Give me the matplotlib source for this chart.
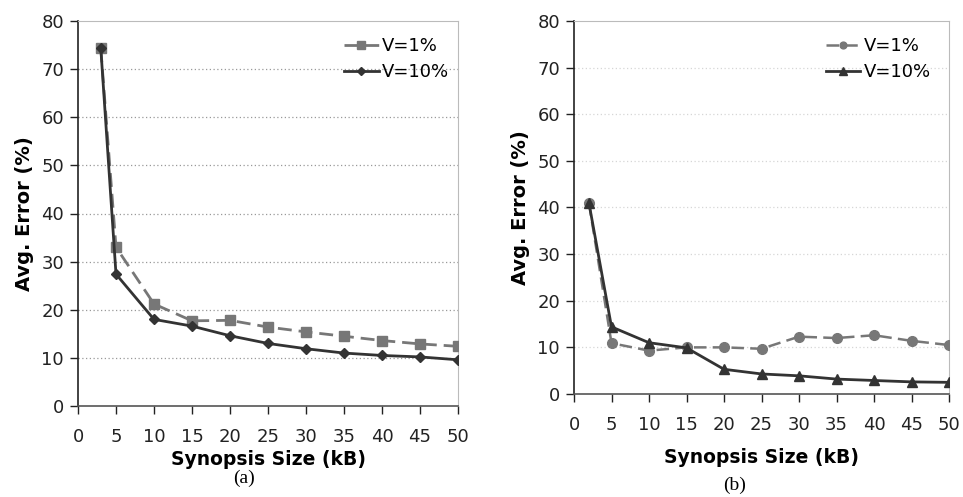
import matplotlib
matplotlib.use("Agg")
import matplotlib.pyplot as plt

# Panel (a)
xa = [3, 5, 10, 15, 20, 25, 30, 35, 40, 45, 50]
a_v1 = [74.3, 33.0, 21.2, 17.7, 17.8, 16.4, 15.4, 14.5, 13.6, 12.9, 12.4]
a_v10 = [74.3, 27.4, 18.0, 16.6, 14.6, 13.0, 11.9, 11.0, 10.5, 10.2, 9.6]

# Panel (b)
xb = [2, 5, 10, 15, 20, 25, 30, 35, 40, 45, 50]
b_v1 = [40.9, 10.9, 9.3, 10.0, 10.0, 9.7, 12.3, 12.0, 12.6, 11.4, 10.5]
b_v10 = [40.9, 14.4, 11.0, 9.9, 5.3, 4.3, 3.9, 3.2, 2.9, 2.6, 2.5]

xticks = [0, 5, 10, 15, 20, 25, 30, 35, 40, 45, 50]
yticks = [0, 10, 20, 30, 40, 50, 60, 70, 80]
labels = ["V=1%", "V=10%"]

C1 = "#777777"
C10 = "#333333"

fig = plt.figure(figsize=(9.63, 4.97), dpi=100)
axa = fig.add_axes([78/963, 1-406/497, 380/963, 385/497])
axb = fig.add_axes([574/963, 1-394/497, 375/963, 373/497])

def style(ax, gridcolor, gridalpha, xlabelpad):
    ax.set_xlim(0, 50)
    ax.set_ylim(0, 80)
    ax.set_xticks(xticks)
    ax.set_yticks(yticks)
    ax.tick_params(labelsize=13, direction="out", length=6, width=1, colors="#222222", pad=4)
    ax.tick_params(axis="x", pad=10)
    for y in yticks[1:-1]:
        ax.axhline(y, color=gridcolor, lw=0.9, ls=(0, (1, 2)), alpha=gridalpha, zorder=0)
    ax.spines["left"].set_color("#222222")
    ax.spines["left"].set_linewidth(1.2)
    ax.spines["bottom"].set_color("#555555")
    ax.spines["bottom"].set_linewidth(1.2)
    ax.spines["top"].set_color("#bbbbbb")
    ax.spines["right"].set_color("#bbbbbb")
    ax.set_ylabel("Avg. Error (%)", fontsize=14, fontweight="bold", labelpad=5)
    ax.set_xlabel("Synopsis Size (kB)", fontsize=13.5, fontweight="bold", labelpad=xlabelpad)

style(axa, "#999999", 1.0, 3)
style(axb, "#cccccc", 0.8, 10)

l1, = axa.plot(xa, a_v1, color=C1, lw=2, ls=(0, (5, 2.5)), marker="s", ms=7, label=labels[0], zorder=3)
l2, = axa.plot(xa, a_v10, color=C10, lw=2, marker="D", ms=5.5, label=labels[1], zorder=4)
axa.legend(handles=[l1, l2], loc="upper right", frameon=False, fontsize=13,
           handlelength=1.9, handletextpad=0.2, labelspacing=0.45,
           bbox_to_anchor=(1.02, 1.0), markerscale=0.8)

m1, = axb.plot(xb, b_v1, color=C1, lw=1.8, ls=(0, (5, 2.5)), marker="o", ms=7, label=labels[0], zorder=3)
m2, = axb.plot(xb, b_v10, color=C10, lw=2, marker="^", ms=7.5, label=labels[1], zorder=4)
axb.legend(handles=[m1, m2], loc="upper right", frameon=False, fontsize=13,
           handlelength=1.9, handletextpad=0.2, labelspacing=0.45,
           bbox_to_anchor=(0.995, 1.0), markerscale=0.7)

fig.text(244/963, 1-478/497, "(a)", fontsize=14, family="Liberation Serif", ha="center", va="center")
fig.text(735/963, 1-485/497, "(b)", fontsize=14, family="Liberation Serif", ha="center", va="center")

fig.savefig("out.png", dpi=100)
